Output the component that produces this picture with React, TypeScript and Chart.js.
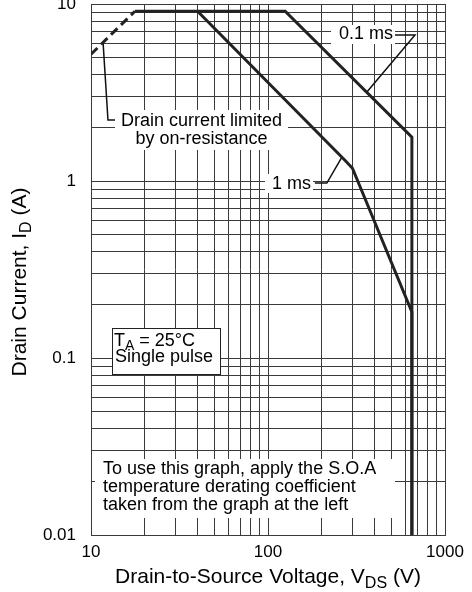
import React, { useEffect, useRef } from "react";
import { Chart, registerables } from "chart.js";

Chart.register(...registerables);

const FONT = '"Liberation Sans", Arial, Helvetica, sans-serif';

// Grid / tick values
const xTickValues = [10, 20, 30, 40, 50, 60, 70, 80, 90, 100, 200, 300, 400, 500, 600, 700, 800, 900, 1000];
const yTickValues = [
  0.01, 0.02, 0.03, 0.04, 0.05, 0.06, 0.07, 0.08, 0.09,
  0.1, 0.2, 0.3, 0.4, 0.5, 0.6, 0.7, 0.8, 0.9,
  1, 2, 3, 4, 5, 6, 7, 8, 9, 10,
];
const xTickLabels: Record<number, string> = { 10: "10", 100: "100", 1000: "1000" };
const yTickLabels: Record<number, string> = { 0.01: "0.01", 0.1: "0.1", 1: "1", 10: "10" };

// Curves (VDS [V], ID [A])
const rdsLimitX = [10, 17.7];
const rdsLimitY = [5.2, 9.1];
const pulse01X = [17.7, 125, 650, 650];
const pulse01Y = [9.1, 9.1, 1.77, 0.01];
const pulse1X = [40, 272, 300, 650, 650];
const pulse1Y = [9.1, 1.31, 1.18, 0.182, 0.01];

// Leader lines
const leaderRdsX = [11.7, 12.47, 14.2];
const leaderRdsY = [6.07, 2.21, 2.21];
const leader01X = [522, 677, 362];
const leader01Y = [6.68, 6.68, 3.18];
const leader1X = [184, 215, 262];
const leader1Y = [0.974, 0.974, 1.37];

const zip = (xs: number[], ys: number[]) => xs.map((x, i) => ({ x, y: ys[i] }));

type Part = { t: string; sub?: boolean };

function drawRich(
  ctx: CanvasRenderingContext2D,
  parts: Part[],
  x: number,
  y: number,
  size: number,
  align: "left" | "center" | "right"
) {
  const subSize = Math.round(size * 0.78);
  let total = 0;
  const widths = parts.map((p) => {
    ctx.font = `${p.sub ? subSize : size}px ${FONT}`;
    const w = ctx.measureText(p.t).width;
    total += w;
    return w;
  });
  let cx = align === "center" ? x - total / 2 : align === "right" ? x - total : x;
  ctx.textAlign = "left";
  ctx.textBaseline = "middle";
  parts.forEach((p, i) => {
    ctx.font = `${p.sub ? subSize : size}px ${FONT}`;
    ctx.fillText(p.t, cx, p.sub ? y + size * 0.3 : y);
    cx += widths[i];
  });
}

const annotationPlugin = {
  id: "annotations",
  afterDatasetsDraw(chart: any) {
    const ctx: CanvasRenderingContext2D = chart.ctx;
    const a = chart.chartArea;
    const X = (dx: number) => a.left + dx;
    const Y = (dy: number) => a.top + dy;
    ctx.save();

    const box = (x0: number, y0: number, x1: number, y1: number) => {
      ctx.fillStyle = "#fff";
      ctx.fillRect(x0, y0, x1 - x0, y1 - y0);
      ctx.fillStyle = "#000";
    };

    // Drain current limited by on-resistance
    box(X(24), Y(106), X(197), Y(146));
    drawRich(ctx, [{ t: "Drain current limited" }], X(110.5), Y(117.5), 18, "center");
    drawRich(ctx, [{ t: "by on-resistance" }], X(110.5), Y(135), 18, "center");

    // 0.1 ms
    box(X(240), Y(21), X(304), Y(40));
    drawRich(ctx, [{ t: "0.1 ms" }], X(302), Y(30.5), 18, "right");

    // 1 ms
    box(X(174), Y(170), X(222), Y(189));
    drawRich(ctx, [{ t: "1 ms" }], X(220), Y(180), 18, "right");

    // TA box
    const tx0 = X(21), tx1 = X(129);
    const ty0 = Y(324), ty1 = Y(370);
    ctx.fillStyle = "#fff";
    ctx.fillRect(tx0, ty0, tx1 - tx0, ty1 - ty0);
    ctx.strokeStyle = "#222";
    ctx.lineWidth = 1;
    ctx.strokeRect(Math.round(tx0) + 0.5, Math.round(ty0) + 0.5, Math.round(tx1 - tx0), Math.round(ty1 - ty0));
    ctx.fillStyle = "#000";
    drawRich(ctx, [{ t: "T" }, { t: "A", sub: true }, { t: " = 25°C" }], tx0 + 2, Y(337), 18, "left");
    drawRich(ctx, [{ t: "Single pulse" }], tx0 + 3, Y(353.5), 18, "left");

    // Note box
    box(X(4), Y(455), X(304), Y(514));
    drawRich(ctx, [{ t: "To use this graph, apply the S.O.A" }], X(12), Y(465.5), 18, "left");
    drawRich(ctx, [{ t: "temperature derating coefficient" }], X(12), Y(483), 18, "left");
    drawRich(ctx, [{ t: "taken from the graph at the left" }], X(12), Y(501), 18, "left");

    ctx.restore();
  },
  afterDraw(chart: any) {
    const ctx: CanvasRenderingContext2D = chart.ctx;
    const area = chart.chartArea;
    ctx.save();
    ctx.fillStyle = "#000";
    drawRich(
      ctx,
      [{ t: "Drain-to-Source Voltage, V" }, { t: "DS", sub: true }, { t: " (V)" }],
      (area.left + area.right) / 2,
      area.bottom + 42,
      21,
      "center"
    );
    ctx.translate(20, area.top + 278);
    ctx.rotate(-Math.PI / 2);
    drawRich(ctx, [{ t: "Drain Current, I" }, { t: "D", sub: true }, { t: " (A)" }], 0, 0, 21, "center");
    ctx.restore();
  },
};

export default function App() {
  const ref = useRef<HTMLCanvasElement | null>(null);
  useEffect(() => {
    if (!ref.current) return;
    const curve = { borderColor: "#222", borderWidth: 3, pointRadius: 0, showLine: true, fill: false, tension: 0 };
    const leader = { borderColor: "#111", borderWidth: 1.5, pointRadius: 0, showLine: true, fill: false, tension: 0 };
    const gridColor = "#3a3a3a";
    const chart = new Chart(ref.current, {
      type: "scatter",
      data: {
        datasets: [
          { ...curve, data: zip(rdsLimitX, rdsLimitY), borderDash: [9, 5] },
          { ...curve, data: zip(pulse01X, pulse01Y) },
          { ...curve, data: zip(pulse1X, pulse1Y) },
          { ...leader, data: zip(leaderRdsX, leaderRdsY) },
          { ...leader, data: zip(leader01X, leader01Y) },
          { ...leader, data: zip(leader1X, leader1Y) },
        ] as any,
      },
      options: {
        animation: false,
        responsive: false,
        maintainAspectRatio: false,
        layout: { padding: { top: 4, right: 27, left: 0, bottom: 0 } },
        plugins: { legend: { display: false }, tooltip: { enabled: false } },
        scales: {
          x: {
            type: "logarithmic",
            min: 10,
            max: 1000,
            afterBuildTicks: (s: any) => {
              s.ticks = xTickValues.map((v) => ({ value: v }));
            },
            afterFit: (s: any) => {
              s.height = 57;
              s.paddingLeft = 0;
              s.paddingRight = 0;
            },
            ticks: {
              autoSkip: false,
              maxRotation: 0,
              padding: 7,
              color: "#000",
              font: { size: 17, family: FONT },
              callback: (v: any) => xTickLabels[Number(v)] ?? "",
            },
            grid: { color: gridColor, lineWidth: 1, drawTicks: false },
            border: { color: gridColor, width: 1 },
          },
          y: {
            type: "logarithmic",
            min: 0.01,
            max: 10,
            afterBuildTicks: (s: any) => {
              s.ticks = yTickValues.map((v) => ({ value: v }));
            },
            afterFit: (s: any) => {
              s.width = 91;
              s.paddingTop = 0;
              s.paddingBottom = 0;
            },
            ticks: {
              autoSkip: false,
              padding: 15,
              color: "#000",
              font: { size: 17, family: FONT },
              callback: (v: any) => yTickLabels[Number(v)] ?? "",
            },
            grid: { color: gridColor, lineWidth: 1, drawTicks: false },
            border: { color: gridColor, width: 1 },
          },
        },
      } as any,
      plugins: [annotationPlugin],
    });
    return () => chart.destroy();
  }, []);
  return (
    <div style={{ position: "fixed", left: 0, top: 0, width: 472, height: 592, background: "#fff" }}>
      <canvas ref={ref} width={472} height={592} style={{ display: "block", width: 472, height: 592 }} />
    </div>
  );
}
